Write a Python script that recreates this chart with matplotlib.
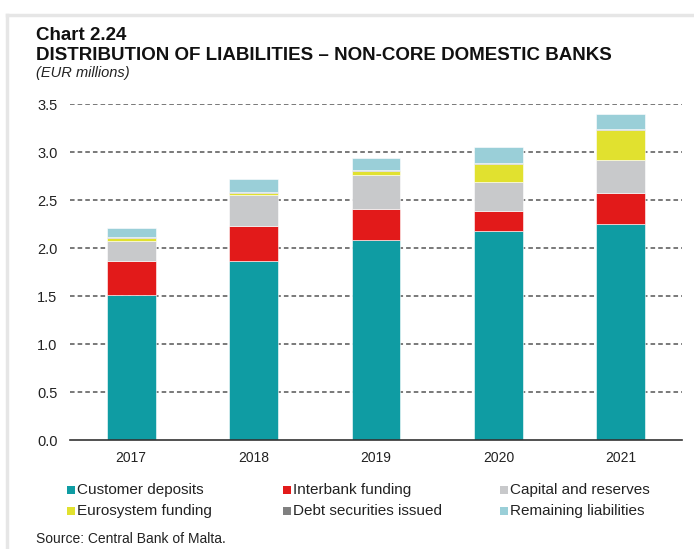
import numpy as np
import matplotlib.pyplot as plt
from matplotlib.patches import Rectangle
from matplotlib.lines import Line2D

plt.rcParams['font.family'] = ['Liberation Sans', 'DejaVu Sans']

years = ['2017', '2018', '2019', '2020', '2021']
customer_deposits = [1.51, 1.86, 2.08, 2.18, 2.25]
interbank_funding = [0.355, 0.37, 0.33, 0.205, 0.32]
capital_reserves = [0.205, 0.32, 0.35, 0.305, 0.35]
eurosystem_funding = [0.03, 0.025, 0.04, 0.19, 0.305]
debt_securities = [0.01, 0.01, 0.01, 0.01, 0.015]
remaining_liabilities = [0.10, 0.13, 0.13, 0.16, 0.16]
y_ticks = [0.0, 0.5, 1.0, 1.5, 2.0, 2.5, 3.0, 3.5]

series = [
    ('Customer deposits', customer_deposits, '#0f9ca3'),
    ('Interbank funding', interbank_funding, '#e21a1a'),
    ('Capital and reserves', capital_reserves, '#c8c9cb'),
    ('Eurosystem funding', eurosystem_funding, '#e1e12f'),
    ('Debt securities issued', debt_securities, '#808080'),
    ('Remaining liabilities', remaining_liabilities, '#9acfd8'),
]

W, H = 694, 549
fig = plt.figure(figsize=(W / 100, H / 100), dpi=100)
ax = fig.add_axes([70 / W, 1 - 440 / H, 612 / W, 336 / H])

x = np.arange(len(years))
bottom = np.zeros(len(years))
for name, vals, color in series:
    ax.bar(x, vals, width=0.4, bottom=bottom, color=color,
           edgecolor='white', linewidth=0.4, zorder=3)
    bottom += np.array(vals)

ax.set_xlim(-0.5, len(years) - 0.5)
ax.set_ylim(0, 3.5)
ax.set_yticks(y_ticks)
ax.set_yticklabels([f'{v:.1f}' for v in y_ticks], fontsize=10.5, color='#222222')
ax.set_xticks(x)
ax.set_xticklabels(years, fontsize=10, color='#222222')
ax.tick_params(axis='y', length=0, pad=9)
ax.tick_params(axis='x', length=0, pad=8)
for v in y_ticks[1:]:
    ax.axhline(v, color='#555555', linestyle=(0, (3, 2)), linewidth=1.1, zorder=1)
for side in ['top', 'right', 'left']:
    ax.spines[side].set_visible(False)
ax.spines['bottom'].set_color('#333333')
ax.spines['bottom'].set_linewidth(1.2)
ax.spines['bottom'].set_zorder(4)

# page frame
fig.add_artist(Line2D([7 / W, 7 / W], [0, 1 - 15 / H], color='#e6e6e6', linewidth=2.5))
fig.add_artist(Line2D([7 / W, 1], [1 - 15 / H, 1 - 15 / H], color='#e6e6e6', linewidth=2.5))

fig.text(36 / W, 1 - 35 / H, 'Chart 2.24', fontsize=13.5, fontweight='bold',
         color='#111111', va='center')
fig.text(36 / W, 1 - 55 / H, 'DISTRIBUTION OF LIABILITIES \u2013 NON-CORE DOMESTIC BANKS',
         fontsize=13.5, fontweight='bold', color='#111111', va='center')
fig.text(36 / W, 1 - 73 / H, '(EUR millions)', fontsize=10.5, style='italic',
         color='#222222', va='center')

# legend, laid out in three columns like the original
order = [0, 1, 2, 3, 4, 5]
col_x = [67, 283, 500]
row_y = [490, 511]
for k, i in enumerate(order):
    name, _, color = series[i]
    cx = col_x[k % 3]
    cy = row_y[k // 3]
    fig.add_artist(Rectangle((cx / W, 1 - (cy + 4) / H), 8 / W, 8 / H,
                             facecolor=color, edgecolor='none', transform=fig.transFigure))
    fig.text((cx + 10) / W, 1 - cy / H, name, fontsize=11, color='#222222', va='center')

fig.text(36 / W, 1 - 539 / H, 'Source: Central Bank of Malta.', fontsize=10,
         color='#222222', va='center')

fig.savefig('out.png', dpi=100)
